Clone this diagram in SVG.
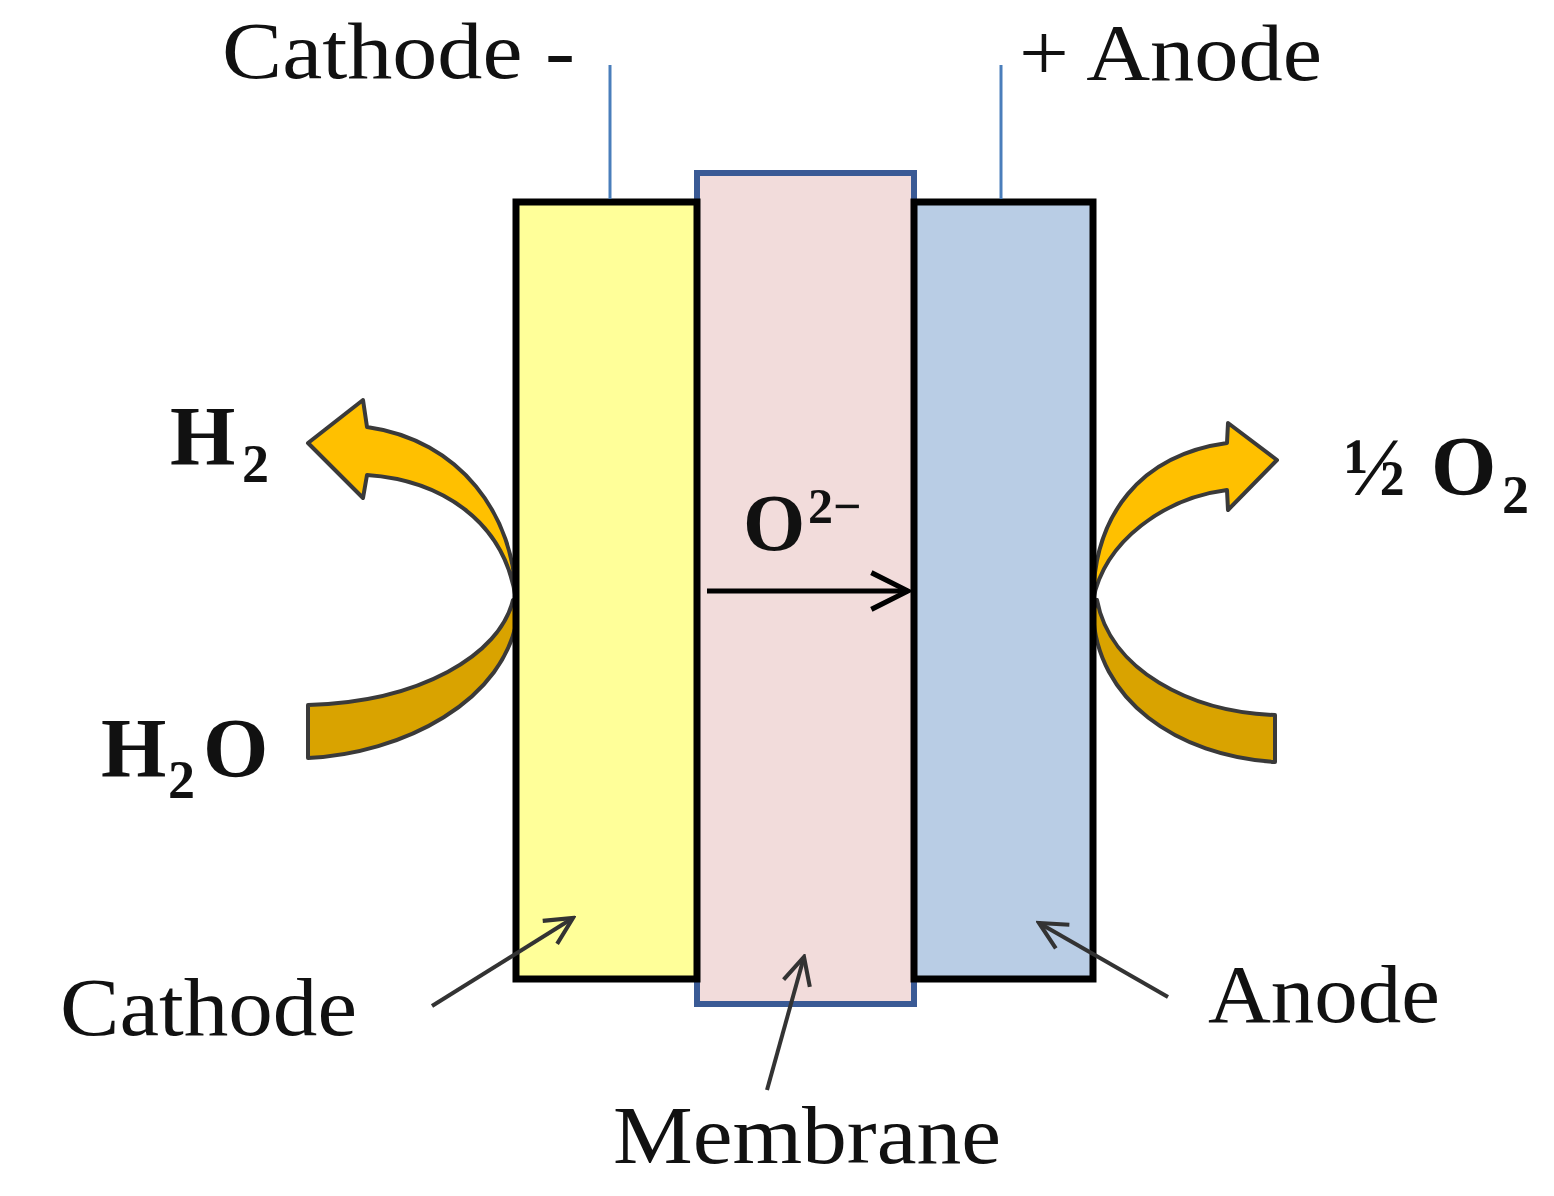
<svg xmlns="http://www.w3.org/2000/svg" width="1554" height="1196" viewBox="0 0 1554 1196">
<defs>
<style>
.t{font-family:"Liberation Serif","Times New Roman",serif;fill:#111;}
.b{font-family:"Liberation Serif","Times New Roman",serif;font-weight:bold;fill:#111;}
.wire{stroke:#4a7ebb;stroke-width:3;fill:none;}
.ptr{stroke:#333;stroke-width:4;fill:none;marker-end:url(#openHead);}
.flowUp{fill:#ffc000;stroke:#3a3a3a;stroke-width:4;stroke-linejoin:round;}
.flowLow{fill:#d9a300;stroke:#3a3a3a;stroke-width:4;stroke-linejoin:round;}
.elec{stroke:#000;stroke-width:7;}
</style>
<marker id="openHead" viewBox="0 0 20 20" refX="18" refY="10" markerUnits="userSpaceOnUse" markerWidth="34" markerHeight="34" orient="auto">
<path d="M2,2 L18,10 L2,18" fill="none" stroke="#333" stroke-width="2.4"/>
</marker>
<marker id="ionHead" viewBox="0 0 24 24" refX="22" refY="12" markerUnits="userSpaceOnUse" markerWidth="44" markerHeight="44" orient="auto">
<path d="M2,2 L22,12 L2,22" fill="none" stroke="#000" stroke-width="2.8"/>
</marker>
</defs>
<rect width="1554" height="1196" fill="#fff"/>

<g id="flow-arrows">
<g id="cathode-flow">
<path class="flowLow" d="M308,758 C400,754 508,702 518,612 L513,600 C500,655 420,702 308,705 Z"/>
<path class="flowUp" d="M516,600 C515,515 460,440 367,427 L363,400 L308,443 L363,498 L367,475 C440,480 505,520 516,600 Z"/>
</g>
<g id="anode-flow">
<path class="flowLow" d="M1275,762 C1177,756 1096,700 1093,612 L1097,600 C1110,670 1190,712 1275,715 Z"/>
<path class="flowUp" d="M1093,600 C1094,515 1140,455 1227,443 L1228,423 L1277,460 L1228,510 L1227,490 C1165,498 1105,540 1093,600 Z"/>
</g>
</g>

<g id="membrane">
<rect x="697" y="173" width="217" height="831" fill="#f2dcdb" stroke="#3a5a95" stroke-width="6"/>
</g>
<g id="cathode">
<rect class="elec" x="516" y="202" width="181" height="777" fill="#ffff99"/>
</g>
<g id="anode">
<rect class="elec" x="914" y="202" width="179" height="777" fill="#b9cde5"/>
</g>

<g id="connectors">
<line class="wire" x1="610" y1="65" x2="610" y2="199"/>
<line class="wire" x1="1001" y1="65" x2="1001" y2="199"/>
<line x1="707" y1="591" x2="908" y2="591" stroke="#000" stroke-width="5" marker-end="url(#ionHead)"/>
<line class="ptr" x1="432" y1="1006" x2="573" y2="918"/>
<line class="ptr" x1="767" y1="1090" x2="804" y2="957"/>
<line class="ptr" x1="1168" y1="997" x2="1039" y2="923"/>
</g>

<g id="labels">
<text class="t" x="222" y="78" font-size="80" textLength="353" lengthAdjust="spacingAndGlyphs">Cathode -</text>
<text class="t" x="1019" y="80" font-size="80" textLength="303" lengthAdjust="spacingAndGlyphs">+ Anode</text>
<text class="b" font-size="84"><tspan x="170" y="465">H</tspan><tspan x="242" y="482" font-size="54">2</tspan></text>
<text class="b" font-size="84"><tspan x="101" y="777">H</tspan><tspan x="168" y="798" font-size="54">2</tspan><tspan x="203" y="777">O</tspan></text>
<text class="b" font-size="84"><tspan x="1344" y="495" font-size="82">½</tspan><tspan x="1431" y="495">O</tspan><tspan x="1502" y="513" font-size="54">2</tspan></text>
<text class="b" font-size="80"><tspan x="743" y="550">O</tspan><tspan x="808" y="523" font-size="50">2−</tspan></text>
<text class="t" x="60" y="1035" font-size="82" textLength="297" lengthAdjust="spacingAndGlyphs">Cathode</text>
<text class="t" x="1208" y="1022" font-size="82" textLength="232" lengthAdjust="spacingAndGlyphs">Anode</text>
<text class="t" x="613" y="1163" font-size="82" textLength="388" lengthAdjust="spacingAndGlyphs">Membrane</text>
</g>
</svg>
